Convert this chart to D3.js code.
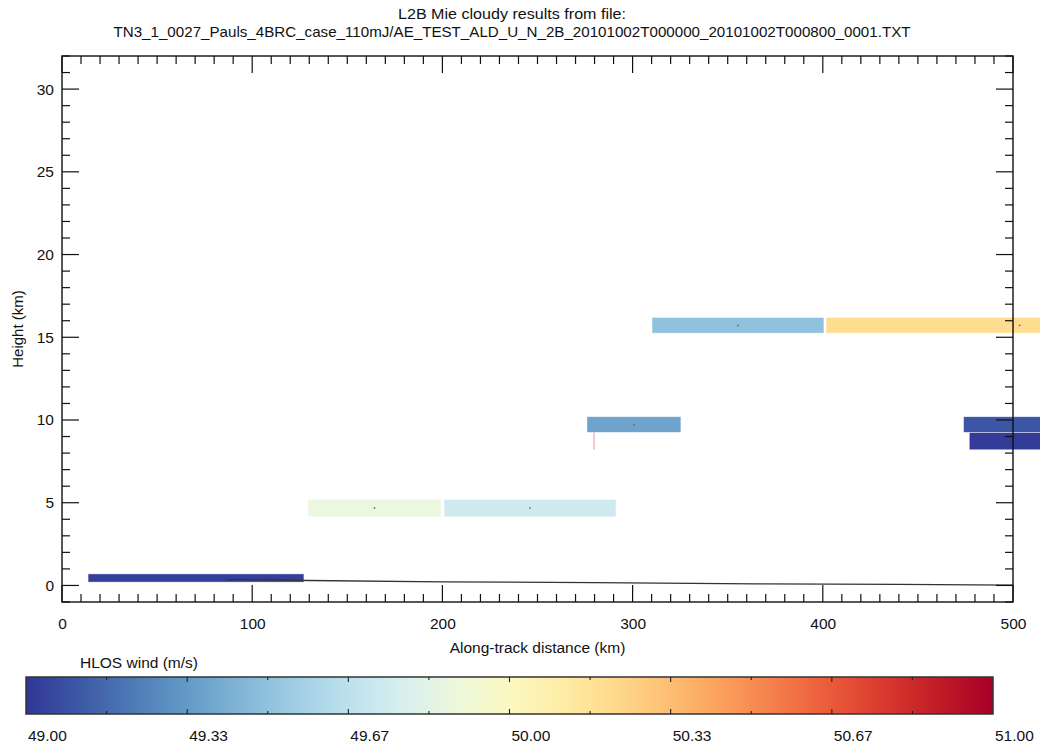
<!DOCTYPE html>
<html>
<head>
<meta charset="utf-8">
<script src="https://cdn.jsdelivr.net/npm/d3@7"></script>
<style>
  body { margin: 0; background: #fff; }
  text { font-family: "Liberation Sans", Arial, sans-serif; fill: #111; }
</style>
</head>
<body>
<div id="chart"></div>
<script>
// Title lines
const titleLines = [
    "L2B Mie cloudy results from file:",
    "TN3_1_0027_Pauls_4BRC_case_110mJ/AE_TEST_ALD_U_N_2B_20101002T000000_20101002T000800_0001.TXT"
];

// Mie cloudy bins: along-track start/end (km), bottom/top height (km), HLOS wind (m/s)
const binStart = [13.7, 129.3, 200.8, 276.0, 310.2, 401.7, 474.0, 477.0];
const binEnd   = [127.2, 199.3, 291.3, 325.4, 400.6, 605.0, 560.0, 560.0];
const binLow   = [0.2, 4.15, 4.15, 9.25, 15.25, 15.25, 9.25, 8.2];
const binHigh  = [0.7, 5.2, 5.2, 10.2, 16.2, 16.2, 10.2, 9.25];
const binWind  = [49.03, 49.88, 49.74, 49.37, 49.50, 50.20, 49.10, 49.02];

// thin red result (vertical sliver)
const sliverX = [279.7];
const sliverLow = [8.2];
const sliverHigh = [9.25];

// ground / surface trace
const groundX = [87, 130, 200, 280, 365, 440, 500];
const groundH = [0.35, 0.3, 0.22, 0.17, 0.1, 0.06, 0.02];

// colorbar
const windDomain = [49, 51];
const windTickLabels = ["49.00", "49.33", "49.67", "50.00", "50.33", "50.67", "51.00"];

const W = 1040, H = 744;
const margin = { top: 56, right: 27, bottom: 142, left: 62 };

const svg = d3.select("#chart").append("svg")
    .attr("width", W)
    .attr("height", H);

const x = d3.scaleLinear().domain([0, 500]).range([margin.left, W - margin.right]);
const y = d3.scaleLinear().domain([-1, 32]).range([H - margin.bottom, margin.top]);

const color = v => d3.interpolateRdYlBu(1 - (v - windDomain[0]) / (windDomain[1] - windDomain[0]));

// Title
svg.append("text")
    .attr("x", 512).attr("y", 19)
    .attr("text-anchor", "middle")
    .style("font-size", "14.5px")
    .attr("textLength", 228)
    .attr("lengthAdjust", "spacingAndGlyphs")
    .text(titleLines[0]);
svg.append("text")
    .attr("x", 512).attr("y", 37)
    .attr("text-anchor", "middle")
    .style("font-size", "14.5px")
    .attr("textLength", 797)
    .attr("lengthAdjust", "spacingAndGlyphs")
    .text(titleLines[1]);

// Bins (not clipped, they run past the right axis)
const bins = binStart.map((s, i) => ({ s, e: binEnd[i], lo: binLow[i], hi: binHigh[i], v: binWind[i] }));

svg.append("g").selectAll("rect")
    .data(bins)
    .enter().append("rect")
    .attr("x", d => x(d.s))
    .attr("y", d => y(d.hi))
    .attr("width", d => x(d.e) - x(d.s))
    .attr("height", d => y(d.lo) - y(d.hi))
    .attr("fill", d => color(d.v))
    .attr("stroke", "#fff")
    .attr("stroke-opacity", 0.6)
    .attr("stroke-width", 0.8);

// center points
svg.append("g").selectAll("circle")
    .data(bins.slice(1, 6))
    .enter().append("circle")
    .attr("cx", d => x((d.s + d.e) / 2 > 500 ? 503.5 : (d.s + d.e) / 2))
    .attr("cy", d => y((d.lo + d.hi) / 2))
    .attr("r", 0.9)
    .attr("fill", "#666");

// sliver
svg.append("g").selectAll("rect")
    .data(sliverX)
    .enter().append("rect")
    .attr("x", d => x(d) - 0.8)
    .attr("y", (d, i) => y(sliverHigh[i]))
    .attr("width", 1.6)
    .attr("height", (d, i) => y(sliverLow[i]) - y(sliverHigh[i]))
    .attr("fill", "#e8909c")
    .attr("opacity", 0.6);

// ground
svg.append("path")
    .datum(groundX.map((g, i) => [g, groundH[i]]))
    .attr("fill", "none")
    .attr("stroke", "#333")
    .attr("stroke-width", 1.3)
    .attr("d", d3.line().x(d => x(d[0])).y(d => y(d[1])));

// Frame with IDL-style inward ticks on all four sides
const frame = svg.append("g");
const x0 = x.range()[0], x1 = x.range()[1], y0 = y.range()[0], y1 = y.range()[1];
frame.append("rect")
    .attr("x", x0).attr("y", y1)
    .attr("width", x1 - x0).attr("height", y0 - y1)
    .attr("fill", "none").attr("stroke", "#111").attr("stroke-width", 1.4);

const xMinor = d3.range(0, 501, 10);
const yMinor = d3.range(-1, 33, 1);

xMinor.forEach(t => {
    const L = t % 100 === 0 ? 17 : 8;
    frame.append("line").attr("x1", x(t)).attr("x2", x(t)).attr("y1", y0).attr("y2", y0 - L)
        .attr("stroke", "#111").attr("stroke-width", 1.2);
    frame.append("line").attr("x1", x(t)).attr("x2", x(t)).attr("y1", y1).attr("y2", y1 + L)
        .attr("stroke", "#111").attr("stroke-width", 1.2);
});
yMinor.forEach(t => {
    const L = t % 5 === 0 ? 17 : 8;
    frame.append("line").attr("y1", y(t)).attr("y2", y(t)).attr("x1", x0).attr("x2", x0 + L)
        .attr("stroke", "#111").attr("stroke-width", 1.2);
    frame.append("line").attr("y1", y(t)).attr("y2", y(t)).attr("x1", x1).attr("x2", x1 - L)
        .attr("stroke", "#111").attr("stroke-width", 1.2);
});

// tick labels
const xAxis = d3.axisBottom(x).tickValues(d3.range(0, 501, 100)).tickSize(0).tickPadding(16);
svg.append("g")
    .attr("transform", `translate(0,${y0})`)
    .call(xAxis)
    .call(g => g.select(".domain").remove())
    .call(g => g.selectAll("text").style("font-size", "15.5px").attr("fill", "#111")
        .style("font-family", "Liberation Sans, Arial, sans-serif"));

const yAxis = d3.axisLeft(y).tickValues(d3.range(0, 31, 5)).tickSize(0).tickPadding(8);
svg.append("g")
    .attr("transform", `translate(${x0},0)`)
    .call(yAxis)
    .call(g => g.select(".domain").remove())
    .call(g => g.selectAll("text").style("font-size", "15.5px").attr("fill", "#111")
        .style("font-family", "Liberation Sans, Arial, sans-serif"));

// axis titles
svg.append("text")
    .attr("x", (x0 + x1) / 2).attr("y", 653)
    .attr("text-anchor", "middle")
    .style("font-size", "15.5px")
    .text("Along-track distance (km)");
svg.append("text")
    .attr("transform", `translate(23,${(y0 + y1) / 2}) rotate(-90)`)
    .attr("text-anchor", "middle")
    .style("font-size", "15px")
    .text("Height (km)");

// Colorbar
const cb = { x: 26, y: 677, w: 967, h: 37 };
const defs = svg.append("defs");
const grad = defs.append("linearGradient").attr("id", "cbgrad");
d3.range(0, 1.0001, 0.05).forEach(t => {
    grad.append("stop").attr("offset", t).attr("stop-color", color(windDomain[0] + t * (windDomain[1] - windDomain[0])));
});
svg.append("rect")
    .attr("x", cb.x).attr("y", cb.y).attr("width", cb.w).attr("height", cb.h)
    .attr("fill", "url(#cbgrad)")
    .attr("stroke", "#333").attr("stroke-width", 1.5);

const cbScale = d3.scaleLinear().domain([0, 12]).range([cb.x, cb.x + cb.w]);
d3.range(1, 12).forEach(i => {
    const L = i % 2 === 0 ? 5 : 3;
    svg.append("line").attr("x1", cbScale(i)).attr("x2", cbScale(i)).attr("y1", cb.y).attr("y2", cb.y + L)
        .attr("stroke", "#222").attr("stroke-width", 1.1);
    svg.append("line").attr("x1", cbScale(i)).attr("x2", cbScale(i)).attr("y1", cb.y + cb.h).attr("y2", cb.y + cb.h - L)
        .attr("stroke", "#222").attr("stroke-width", 1.1);
});
svg.append("g").selectAll("text")
    .data(windTickLabels)
    .enter().append("text")
    .attr("x", (d, i) => cbScale(i * 2) + 2)
    .attr("y", 741)
    .style("font-size", "15.5px")
    .text(d => d);

svg.append("text")
    .attr("x", 80).attr("y", 668)
    .style("font-size", "15.5px")
    .text("HLOS wind (m/s)");
</script>
</body>
</html>
